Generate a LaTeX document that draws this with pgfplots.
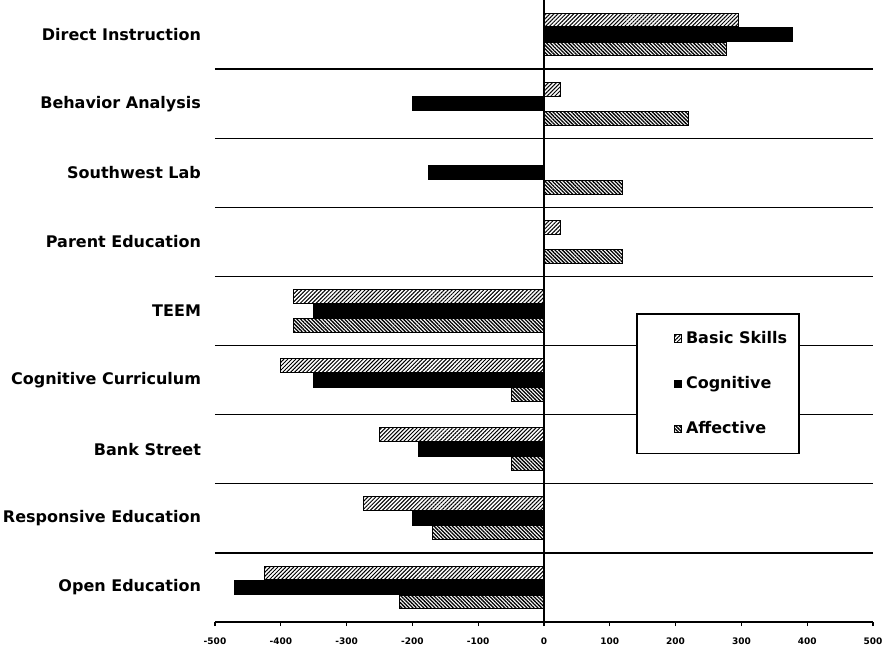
\documentclass[border=0pt]{standalone}
\usepackage{fontspec}
\setmainfont{DejaVu Sans}
\usepackage{pgfplots}
\pgfplotsset{compat=1.18}
\usetikzlibrary{patterns.meta}
\tikzset{
  bspat/.style={pattern={Lines[angle=45,distance=1.4pt,line width=0.5pt]}},
  afpat/.style={pattern={Lines[angle=-45,distance=1.3pt,line width=0.65pt]}},
}
\begin{document}
\begin{tikzpicture}
\begin{axis}[
  scale only axis, width=329pt, height=311pt,
  xbar, bar width=0.2,
  xmin=-500, xmax=500, ymin=-0.5, ymax=8.5,
  axis x line=bottom, axis y line=left,
  axis line style={-, line width=0.8pt, black},
  y axis line style={draw=none},
  xtick={-500,-400,-300,-200,-100,0,100,200,300,400,500},
  xticklabels={-500,-400,-300,-200,-100,0,100,200,300,400,500},
  x tick label style={font=\bfseries\fontsize{4.5}{5}\selectfont, yshift=-2.5pt},
  major x tick style={line width=0.6pt, black}, major tick length=2pt, tick align=outside,
  ytick={0,1,2,3,4,5,6,7,8},
  yticklabels={Open Education,Responsive Education,Bank Street,Cognitive Curriculum,TEEM,Parent Education,Southwest Lab,Behavior Analysis,Direct Instruction},
  y tick label style={font=\bfseries\fontsize{8}{9}\selectfont, xshift=-1.5pt},
  major y tick style={draw=none},
  minor ytick={0.5,1.5,2.5,3.5,4.5,5.5,6.5,7.5},
  yminorgrids, minor grid style={black, line width=0.7pt},
  minor y tick style={draw=none}, minor tick length=0pt,
  legend style={at={(axis cs:140,3.97)}, anchor=north west, draw=black, line width=0.8pt, fill=white,
    font=\bfseries\fontsize{8}{9.5}\selectfont, row sep=11pt, inner xsep=4pt, inner ysep=6.5pt},
  legend cell align=left,
  legend image code/.code={\path (0pt,0pt); \draw[#1, line width=0.4pt] (14.5pt,-1.8pt) rectangle (18.1pt,1.8pt);},
]
\addplot[draw=black, line width=0.5pt, bspat, bar shift=0.21] coordinates {
(-425,0) (-275,1) (-250,2) (-400,3) (-380,4) (25,5) (0,6) (25,7) (295,8)};
\addlegendentry{Basic Skills\hspace{9pt}}
\addplot[draw=black, fill=black, line width=0.5pt, bar shift=0] coordinates {
(-470,0) (-200,1) (-190,2) (-350,3) (-350,4) (0,5) (-175,6) (-200,7) (377,8)};
\addlegendentry{Cognitive}
\addplot[draw=black, line width=0.5pt, afpat, bar shift=-0.21] coordinates {
(-220,0) (-170,1) (-50,2) (-50,3) (-380,4) (120,5) (120,6) (220,7) (277,8)};
\addlegendentry{Affective}
\draw[line width=0.8pt] (axis cs:0,-0.5) -- (axis cs:0,8.5);
\end{axis}
\pgfresetboundingbox
\path ([xshift=-107.5pt,yshift=-14.5pt]current axis.south west) rectangle ([xshift=6.5pt]current axis.north east);
\end{tikzpicture}
\end{document}
